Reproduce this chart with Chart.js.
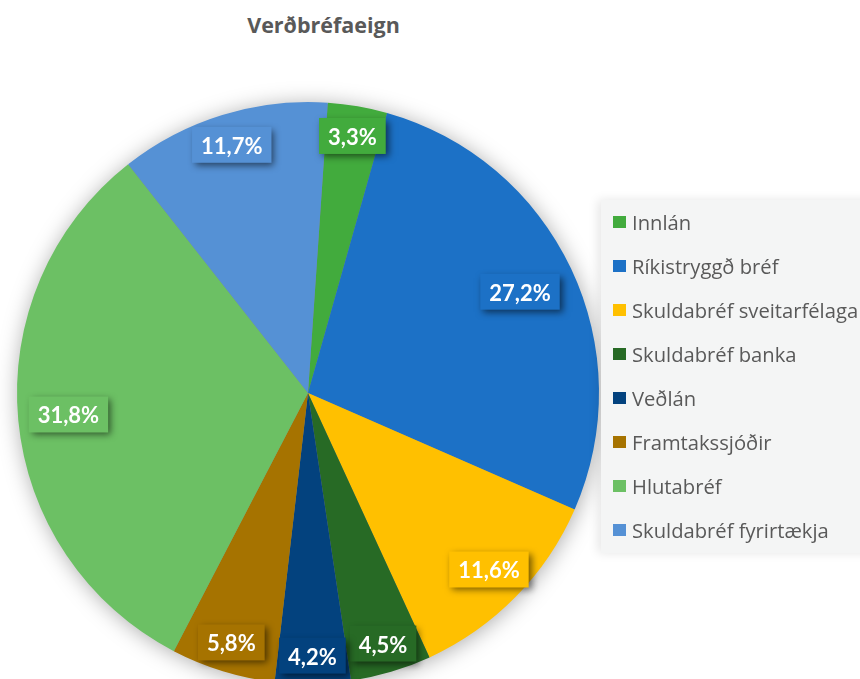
<!DOCTYPE html>
<html><head><meta charset="utf-8">
<script src="https://cdn.jsdelivr.net/npm/chart.js@4.4.1/dist/chart.umd.min.js"></script>
<style>
html,body{margin:0;padding:0;background:#fff;overflow:hidden;width:860px;height:679px;position:relative;}
#title{position:absolute;left:0;width:647px;top:14px;line-height:22px;text-align:center;font-family:"Open Sans",sans-serif;font-weight:bold;font-size:21.5px;color:#595959;}
#chart{position:absolute;left:0;top:0;}
#legend{position:absolute;left:601px;top:200px;width:280px;height:353px;background:#f4f5f5;box-shadow:-3px 0 10px rgba(0,0,0,0.10);}
.row{height:44px;display:flex;align-items:center;padding-left:12px;font-family:"Open Sans",sans-serif;font-size:20.2px;color:#595959;white-space:nowrap;}
.sw{width:13px;height:12px;margin-right:6px;flex:none;}
</style>
</head><body>
<div id="title"></div>
<canvas id="chart" width="860" height="800"></canvas>
<div id="legend"></div>
<script>
const chartTitle = 'Verðbréfaeign';
const categories = ['Innlán','Ríkistryggð bréf','Skuldabréf sveitarfélaga','Skuldabréf banka','Veðlán','Framtakssjóðir','Hlutabréf','Skuldabréf fyrirtækja'];
const shares = [3.3, 27.2, 11.6, 4.5, 4.2, 5.8, 31.8, 11.7];

const sliceColors = ['#42ab3d','#1c71c6','#ffc000','#276a25','#03427e','#a67300','#6cc064','#5591d5'];
const labelRadii = [0.893,0.806,0.871,0.902,0.906,0.900,0.827,0.889];

const fmt = v => v.toFixed(1).replace('.', ',') + '%';

document.getElementById('title').textContent = chartTitle;
const lg = document.getElementById('legend');
categories.forEach((c,i)=>{
  const r = document.createElement('div'); r.className='row';
  const s = document.createElement('span'); s.className='sw'; s.style.background=sliceColors[i];
  const t = document.createElement('span'); t.textContent=c;
  r.appendChild(s); r.appendChild(t); lg.appendChild(r);
});

const shadowPlugin = {
  id:'pieShadow',
  beforeDatasetsDraw(chart){
    const arc = chart.getDatasetMeta(0).data[0];
    if(!arc) return;
    const {x,y,outerRadius} = arc.getProps(['x','y','outerRadius'], true);
    const ctx = chart.ctx;
    ctx.save();
    ctx.shadowColor='rgba(0,0,0,0.35)'; ctx.shadowBlur=22; ctx.shadowOffsetX=1; ctx.shadowOffsetY=2;
    ctx.fillStyle='#888';
    ctx.beginPath(); ctx.arc(x,y,outerRadius-1,0,Math.PI*2); ctx.fill();
    ctx.restore();
  }
};

const labelPlugin = {
  id:'sliceLabels',
  afterDatasetsDraw(chart){
    const ctx = chart.ctx;
    const meta = chart.getDatasetMeta(0);
    meta.data.forEach((arc,i)=>{
      const p = arc.getProps(['x','y','startAngle','endAngle','outerRadius'], true);
      const mid = (p.startAngle+p.endAngle)/2;
      const rr = p.outerRadius*labelRadii[i];
      const px = p.x + Math.cos(mid)*rr, py = p.y + Math.sin(mid)*rr;
      const text = fmt(shares[i]);
      ctx.save();
      ctx.font = 'bold 22px Lato';
      const w = ctx.measureText(text).width + 18, h = 36;
      ctx.shadowColor='rgba(0,0,0,0.55)'; ctx.shadowBlur=7; ctx.shadowOffsetX=3; ctx.shadowOffsetY=3;
      ctx.fillStyle = sliceColors[i];
      ctx.fillRect(px-w/2, py-h/2-1, w, h);
      ctx.shadowColor='rgba(0,0,0,0)';
      ctx.fillStyle='#fff'; ctx.textAlign='center'; ctx.textBaseline='alphabetic';
      ctx.fillText(text, px, py+8);
      ctx.restore();
    });
  }
};

new Chart(document.getElementById('chart'), {
  type:'pie',
  data:{labels:categories, datasets:[{data:shares, backgroundColor:sliceColors, borderWidth:0}]},
  options:{
    responsive:false, animation:false, rotation:3.9, radius:291,
    layout:{padding:{left:0,top:0,right:244,bottom:14}},
    plugins:{legend:{display:false}, tooltip:{enabled:false}, title:{display:false}}
  },
  plugins:[shadowPlugin, labelPlugin]
});
</script>
</body></html>
